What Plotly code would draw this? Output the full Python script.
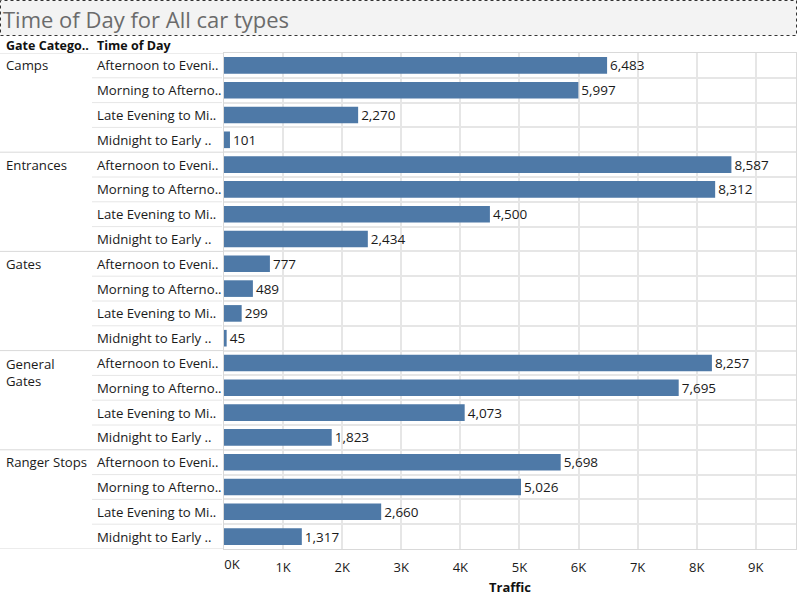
import plotly.graph_objects as go

# ---------------- data ----------------
categories = ["Camps", "Entrances", "Gates", "General Gates", "Ranger Stops"]
category_display = ["Camps", "Entrances", "Gates", "General<br>Gates", "Ranger Stops"]
times_of_day = ["Afternoon to Eveni..", "Morning to Afterno..", "Late Evening to Mi..", "Midnight to Early .."]
camps = [6483, 5997, 2270, 101]
entrances = [8587, 8312, 4500, 2434]
gates = [777, 489, 299, 45]
general_gates = [8257, 7695, 4073, 1823]
ranger_stops = [5698, 5026, 2660, 1317]
tick_values = [0, 1000, 2000, 3000, 4000, 5000, 6000, 7000, 8000, 9000]
tick_labels = ["0K", "1K", "2K", "3K", "4K", "5K", "6K", "7K", "8K", "9K"]

series = [camps, entrances, gates, general_gates, ranger_stops]

# ---------------- layout constants ----------------
W, H = 800, 602
ML, MR, MT, MB = 224, 4, 53, 53
PW = W - ML - MR
PH = H - MT - MB
FONT = "Open Sans"
BAR = "#4e79a7"
GRID = "#e6e6e6"
SEP = "#d9d9d9"
TXT = "#1a1a1a"
LBL = 13.2


def px_x(px):
    return (px - ML) / PW


def px_y(py):
    return (H - MB - py) / PH


rows_y, rows_x = [], []
for gi, vals in enumerate(series):
    for ti, v in enumerate(vals):
        rows_y.append(gi * len(times_of_day) + ti)
        rows_x.append(v)
n_rows = len(rows_y)

fig = go.Figure()
fig.add_trace(go.Bar(
    x=rows_x, y=rows_y, orientation="h",
    marker=dict(color=BAR, line=dict(width=0)),
    width=0.67,
    text=[f"{v:,}" for v in rows_x], textposition="outside",
    textfont=dict(family=FONT, size=13.5, color=TXT),
    constraintext="none", cliponaxis=False,
    hoverinfo="skip", showlegend=False,
))
# helper trace so the overlay axis carrying the shifted "0K" label is drawn
fig.add_trace(go.Scatter(x=[tick_values[0]], y=[0], xaxis="x2", mode="markers",
                         marker=dict(opacity=0), hoverinfo="skip", showlegend=False))

annotations = []
shapes = []

# title box
shapes.append(dict(type="rect", xref="paper", yref="paper",
                   x0=px_x(0.5), x1=px_x(796.5), y0=px_y(35.5), y1=px_y(0.5),
                   fillcolor="#f3f3f3", line=dict(color="#333", width=1, dash="dot"),
                   layer="below"))
annotations.append(dict(text="Time of Day for All car types", xref="paper", yref="paper",
                        x=px_x(1), y=px_y(19), xanchor="left", yanchor="middle",
                        showarrow=False, font=dict(family=FONT, size=22, color="#6b6b6b")))
# headers
annotations.append(dict(text="<b>Gate Catego..</b>", xref="paper", yref="paper",
                        x=px_x(4), y=px_y(45), xanchor="left", yanchor="middle",
                        showarrow=False, font=dict(family=FONT, size=12.5, color="#111")))
annotations.append(dict(text="<b>Time of Day</b>", xref="paper", yref="paper",
                        x=px_x(95), y=px_y(45), xanchor="left", yanchor="middle",
                        showarrow=False, font=dict(family=FONT, size=12.5, color="#111")))

per = len(times_of_day)
for gi, name in enumerate(category_display):
    multi = "<br>" in name
    annotations.append(dict(text=name, xref="paper", yref="y",
                            x=px_x(4), y=gi * per, xanchor="left",
                            yanchor="middle", yshift=-9 if multi else 0,
                            align="left", showarrow=False,
                            font=dict(family=FONT, size=LBL, color=TXT)))
    for ti, t in enumerate(times_of_day):
        annotations.append(dict(text=t, xref="paper", yref="y",
                                x=px_x(95), y=gi * per + ti, xanchor="left",
                                yanchor="middle", showarrow=False,
                                font=dict(family=FONT, size=LBL, color=TXT)))
    # row separators inside a group (label pane)
    for ti in range(per - 1):
        yb = gi * per + ti + 0.5
        shapes.append(dict(type="line", xref="paper", yref="y",
                           x0=px_x(92), x1=px_x(222), y0=yb, y1=yb,
                           line=dict(color=GRID, width=1)))

# group separators across label pane
for b in [-0.5] + [gi * per + per - 0.5 for gi in range(len(categories))]:
    shapes.append(dict(type="line", xref="paper", yref="y",
                       x0=px_x(0), x1=px_x(224), y0=b, y1=b,
                       line=dict(color=SEP, width=1)))

fig.update_layout(
    width=W, height=H,
    margin=dict(l=ML, r=MR, t=MT, b=MB, pad=0),
    paper_bgcolor="white", plot_bgcolor="white",
    font=dict(family=FONT, size=13, color=TXT),
    xaxis=dict(range=[0, 9680], tickvals=tick_values,
               ticktext=[""] + tick_labels[1:],
               showgrid=True, gridcolor=GRID, gridwidth=2,
               zeroline=False, showline=True, mirror=True, linecolor=SEP, linewidth=1,
               ticks="", ticklabelstandoff=6,
               tickfont=dict(family=FONT, size=13, color=TXT),
               title=dict(text="<b>Traffic</b>", standoff=8,
                          font=dict(family=FONT, size=13, color="#111")),
               fixedrange=True),
    xaxis2=dict(overlaying="x", side="bottom", range=[0, 9680],
                tickvals=tick_values[:1], ticktext=tick_labels[:1],
                showgrid=False, zeroline=False, showline=False, ticks="",
                ticklabelstandoff=6, ticklabelshift=8,
                tickfont=dict(family=FONT, size=13, color=TXT),
                fixedrange=True),
    yaxis=dict(range=[n_rows - 0.5, -0.5],
               tickvals=[i + 0.5 for i in range(n_rows - 1)],
               showticklabels=False, showgrid=True, gridcolor=GRID, gridwidth=1.5,
               zeroline=False, showline=True, mirror=True, linecolor=SEP, linewidth=1,
               ticks="", fixedrange=True),
    annotations=annotations, shapes=shapes,
    bargap=0.33,
)

fig.write_html("out.html", config={"displayModeBar": False},
               post_script="document.body.style.margin='0';document.body.style.padding='0';")
